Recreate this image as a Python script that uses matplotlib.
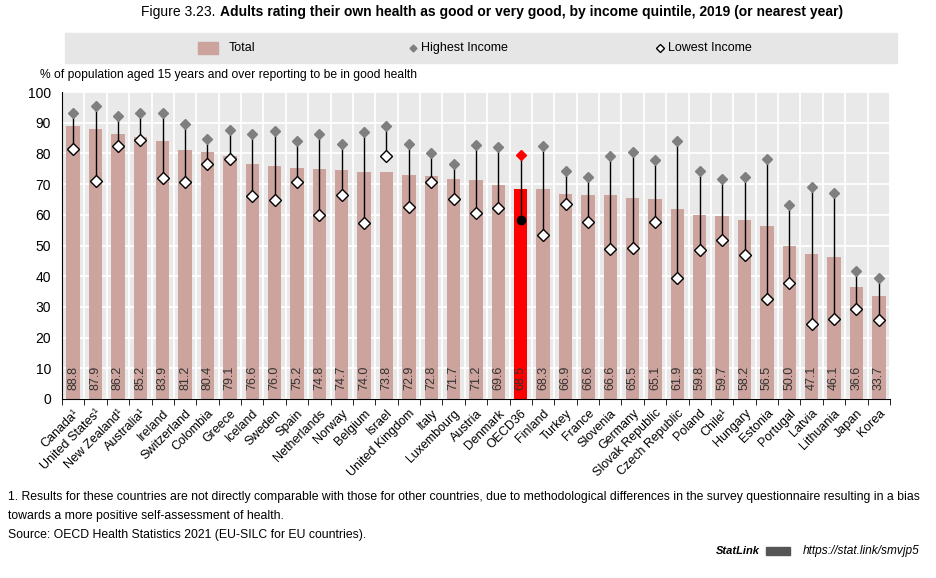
import numpy as np
import matplotlib
matplotlib.use("Agg")
import matplotlib.pyplot as plt
from matplotlib.lines import Line2D
from matplotlib.patches import Rectangle

countries = ["Canada¹", "United States¹", "New Zealand¹", "Australia¹", "Ireland", "Switzerland",
             "Colombia", "Greece", "Iceland", "Sweden", "Spain", "Netherlands", "Norway",
             "Belgium", "Israel", "United Kingdom", "Italy", "Luxembourg", "Austria", "Denmark",
             "OECD36", "Finland", "Turkey", "France", "Slovenia", "Germany", "Slovak Republic",
             "Czech Republic", "Poland", "Chile¹", "Hungary", "Estonia", "Portugal", "Latvia",
             "Lithuania", "Japan", "Korea"]
total = [88.8, 87.9, 86.2, 85.2, 83.9, 81.2, 80.4, 79.1, 76.6, 76.0, 75.2, 74.8, 74.7,
         74.0, 73.8, 72.9, 72.8, 71.7, 71.2, 69.6, 68.5, 68.3, 66.9, 66.6, 66.6, 65.5, 65.1,
         61.9, 59.8, 59.7, 58.2, 56.5, 50.0, 47.1, 46.1, 36.6, 33.7]
highest = [93.2, 95.5, 92.2, 93.0, 93.2, 89.6, 84.7, 87.7, 86.4, 87.4, 84.1, 86.4, 83.0,
           87.1, 88.9, 83.0, 80.0, 76.5, 82.8, 82.1, 79.5, 82.5, 74.2, 72.2, 79.3, 80.4, 77.8,
           83.9, 74.2, 71.6, 72.2, 78.3, 63.3, 69.1, 67.1, 41.7, 39.5]
lowest = [81.5, 71.0, 82.4, 84.4, 72.0, 70.7, 76.6, 78.2, 66.1, 64.8, 70.7, 59.9, 66.6,
          57.4, 79.3, 62.4, 70.6, 65.3, 60.7, 62.2, 58.3, 53.5, 63.6, 57.7, 48.7, 49.3, 57.5,
          39.5, 48.4, 51.9, 46.8, 32.7, 37.8, 24.4, 26.1, 29.2, 25.7]

plt.rcParams["font.family"] = ["Liberation Sans", "DejaVu Sans"]

bar_col = "#CCA39D"
oecd = countries.index("OECD36")
x = np.arange(len(countries))

W, H = 936, 578
fig = plt.figure(figsize=(W / 100, H / 100), dpi=100)
ax = fig.add_axes([62 / W, (H - 399) / H, (890 - 62) / W, (399 - 92) / H])
ax.set_facecolor("#E9E9E9")

colors = [bar_col] * len(x)
colors[oecd] = "#FF0000"
ax.bar(x, total, width=0.6, color=colors, zorder=2)

for i in x:
    ax.plot([i, i], [lowest[i], highest[i]], color="black", lw=1, zorder=3)
    hc = "#FF0000" if i == oecd else "#7F7F7F"
    ax.plot(i, highest[i], marker="D", ms=5.5, color=hc, mec=hc, zorder=4)
    if i == oecd:
        ax.plot(i, lowest[i], marker="o", ms=6, color="black", zorder=4)
    else:
        ax.plot(i, lowest[i], marker="D", ms=6, mfc="white", mec="black", mew=1, zorder=4)
    ax.text(i, 6.8, f"{total[i]:.1f}", rotation=90, ha="center", va="center",
            fontsize=9, color="#333333", zorder=5)

ax.set_xlim(-0.5, len(x) - 0.5)
ax.set_ylim(0, 100)
ax.set_yticks(np.arange(0, 101, 10))
ax.set_xticks(x)
ax.set_xticklabels(countries, rotation=45, ha="right", rotation_mode="anchor", fontsize=9)
ax.set_xticks(np.arange(-0.5, len(x), 1), minor=True)
ax.tick_params(axis="x", which="major", length=0, pad=6)
ax.tick_params(axis="x", which="minor", length=4, direction="out", color="black")
ax.tick_params(axis="y", length=0, labelsize=10, pad=8)
ax.grid(True, axis="y", color="white", lw=1.3, zorder=1)
ax.grid(True, axis="x", which="minor", color="white", lw=1.3, zorder=1)
ax.set_axisbelow(True)
for s in ["top", "right"]:
    ax.spines[s].set_visible(False)
ax.spines["left"].set_color("black")
ax.spines["bottom"].set_color("black")

# title, two parts centred together
ty = 1 - 12 / H
t1 = fig.text(0, ty, "Figure 3.23. ", fontsize=10, va="center")
t2 = fig.text(0, ty, "Adults rating their own health as good or very good, by income quintile, 2019 (or nearest year)",
              fontsize=10, va="center", fontweight="bold")
fig.canvas.draw()
w1 = t1.get_window_extent().width
w2 = t2.get_window_extent().width
x0 = 492 - (w1 + w2) / 2
t1.set_x(x0 / W)
t2.set_x((x0 + w1) / W)

# legend band
fig.add_artist(Rectangle((65 / W, 1 - 63 / H), (897 - 65) / W, 30 / H,
                         transform=fig.transFigure, color="#E6E6E6", zorder=0))
ly = 1 - 48 / H
fig.add_artist(Rectangle((198 / W, ly - 6 / H), 20 / W, 12 / H, transform=fig.transFigure,
                         color=bar_col))
fig.text(229 / W, ly, "Total", fontsize=9, va="center")
fig.add_artist(Line2D([413 / W], [ly], marker="D", ms=3.5, color="#7F7F7F",
                      transform=fig.transFigure))
fig.text(421 / W, ly, "Highest Income", fontsize=9, va="center")
fig.add_artist(Line2D([660 / W], [ly], marker="D", ms=4, mfc="white", mec="black",
                      transform=fig.transFigure))
fig.text(668 / W, ly, "Lowest Income", fontsize=9, va="center")

fig.text(40 / W, 1 - 75 / H, "% of population aged 15 years and over reporting to be in good health",
         fontsize=8.7, va="center")

notes = ["1. Results for these countries are not directly comparable with those for other countries, due to methodological differences in the survey questionnaire resulting in a bias",
         "towards a more positive self-assessment of health.",
         "Source: OECD Health Statistics 2021 (EU-SILC for EU countries)."]
for k, line in enumerate(notes):
    fig.text(8 / W, 1 - (497 + 19 * k) / H, line, fontsize=8.85, va="center")

sy = 1 - 551 / H
fig.text(920 / W, sy, "https://stat.link/smvjp5", fontsize=8.6, va="center",
         ha="right", style="italic")
fig.add_artist(Rectangle((766 / W, sy - 4 / H), 24 / W, 8 / H, transform=fig.transFigure,
                         color="#555555"))
fig.text(760 / W, sy, "StatLink", fontsize=8, va="center", ha="right",
         style="italic", fontweight="bold")

fig.savefig("out.png", dpi=100)
